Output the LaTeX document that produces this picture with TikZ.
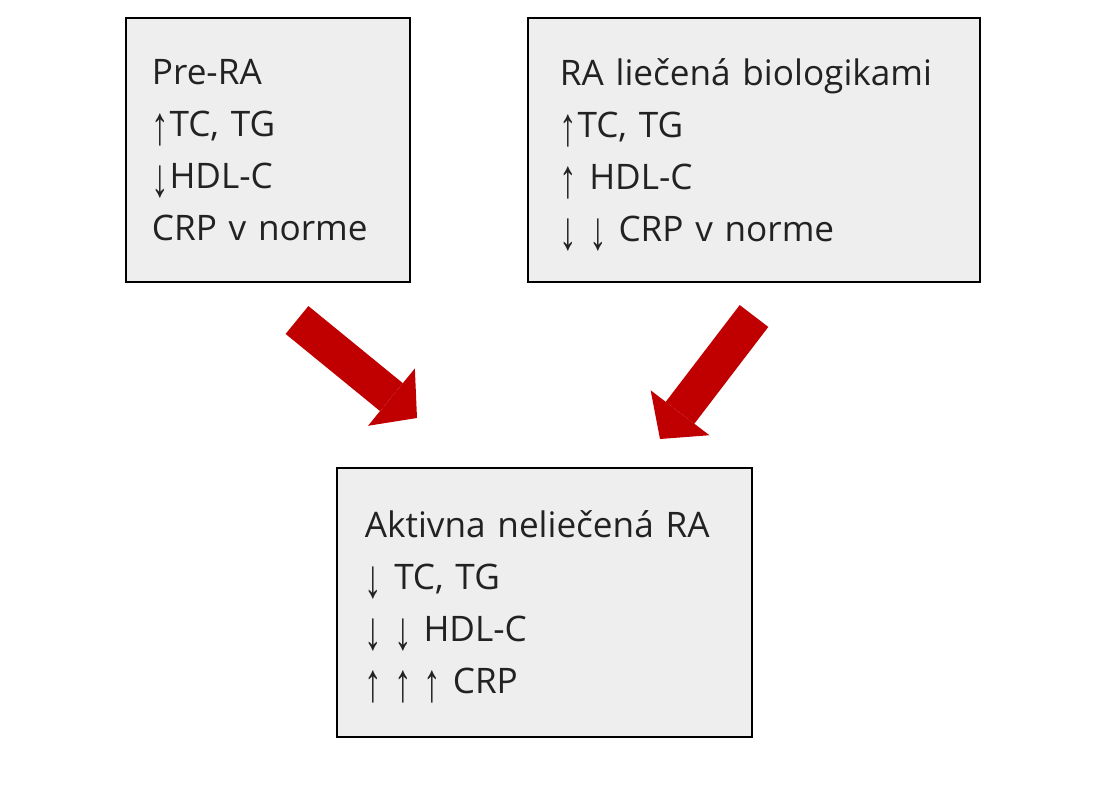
\documentclass[tikz,border=0pt]{standalone}
\usepackage{fontspec}
\setmainfont{Open Sans}
\newfontfamily\arrowfont{Liberation Sans}
\usetikzlibrary{arrows.meta}
\definecolor{boxgray}{HTML}{EEEEEE}
\definecolor{arrowred}{HTML}{C00000}
\definecolor{textgray}{HTML}{222222}
\newcommand{\upar}{{\arrowfont\smash{\raisebox{-0.22em}{\scalebox{1}[1.55]{\char"2191}}}}}
\newcommand{\dnar}{{\arrowfont\smash{\raisebox{-0.22em}{\scalebox{1}[1.55]{\char"2193}}}}}
\tikzset{
  infobox/.style={draw=black, line width=1pt, fill=boxgray, align=left, text=textgray,
    font=\fontsize{25}{37}\selectfont, minimum height=6.6cm, inner ysep=0pt},
  fatarrow/.style={draw=arrowred, line width=0.9cm,
    -{Triangle[length=0.825cm, width=1.85cm, line width=0pt]}}
}
\begin{document}
\begin{tikzpicture}[x=0.025cm, y=-0.025cm]
\useasboundingbox (0,0) rectangle (1100,800);
% the three boxes
\node[infobox, text width=5.8cm, inner xsep=0.65cm] (prera) at (268,150)
  {Pre-RA\\\upar TC, TG\\\dnar HDL-C\\CRP v norme};
\node[infobox, text width=9.7cm, inner xsep=0.8cm] (biolog) at (754,150)
  {RA liečená biologikami\\\upar TC, TG\\\upar{} HDL-C\\\dnar{} \dnar{} CRP v norme};
\node[infobox, text width=8.975cm, inner xsep=0.7cm, minimum height=6.725cm] (aktiv) at (544.5,602.5)
  {Aktivna neliečená RA\\\dnar{} TC, TG\\\dnar{} \dnar{} HDL-C\\\upar{} \upar{} \upar{} CRP};
% red arrows
\coordinate (ltail) at (297,320);
\coordinate (lhead) at (417,418);
\coordinate (rtail) at (754,316);
\coordinate (rhead) at (660,439);
\draw[fatarrow] (ltail) -- (lhead);
\draw[fatarrow] (rtail) -- (rhead);
\end{tikzpicture}
\end{document}
